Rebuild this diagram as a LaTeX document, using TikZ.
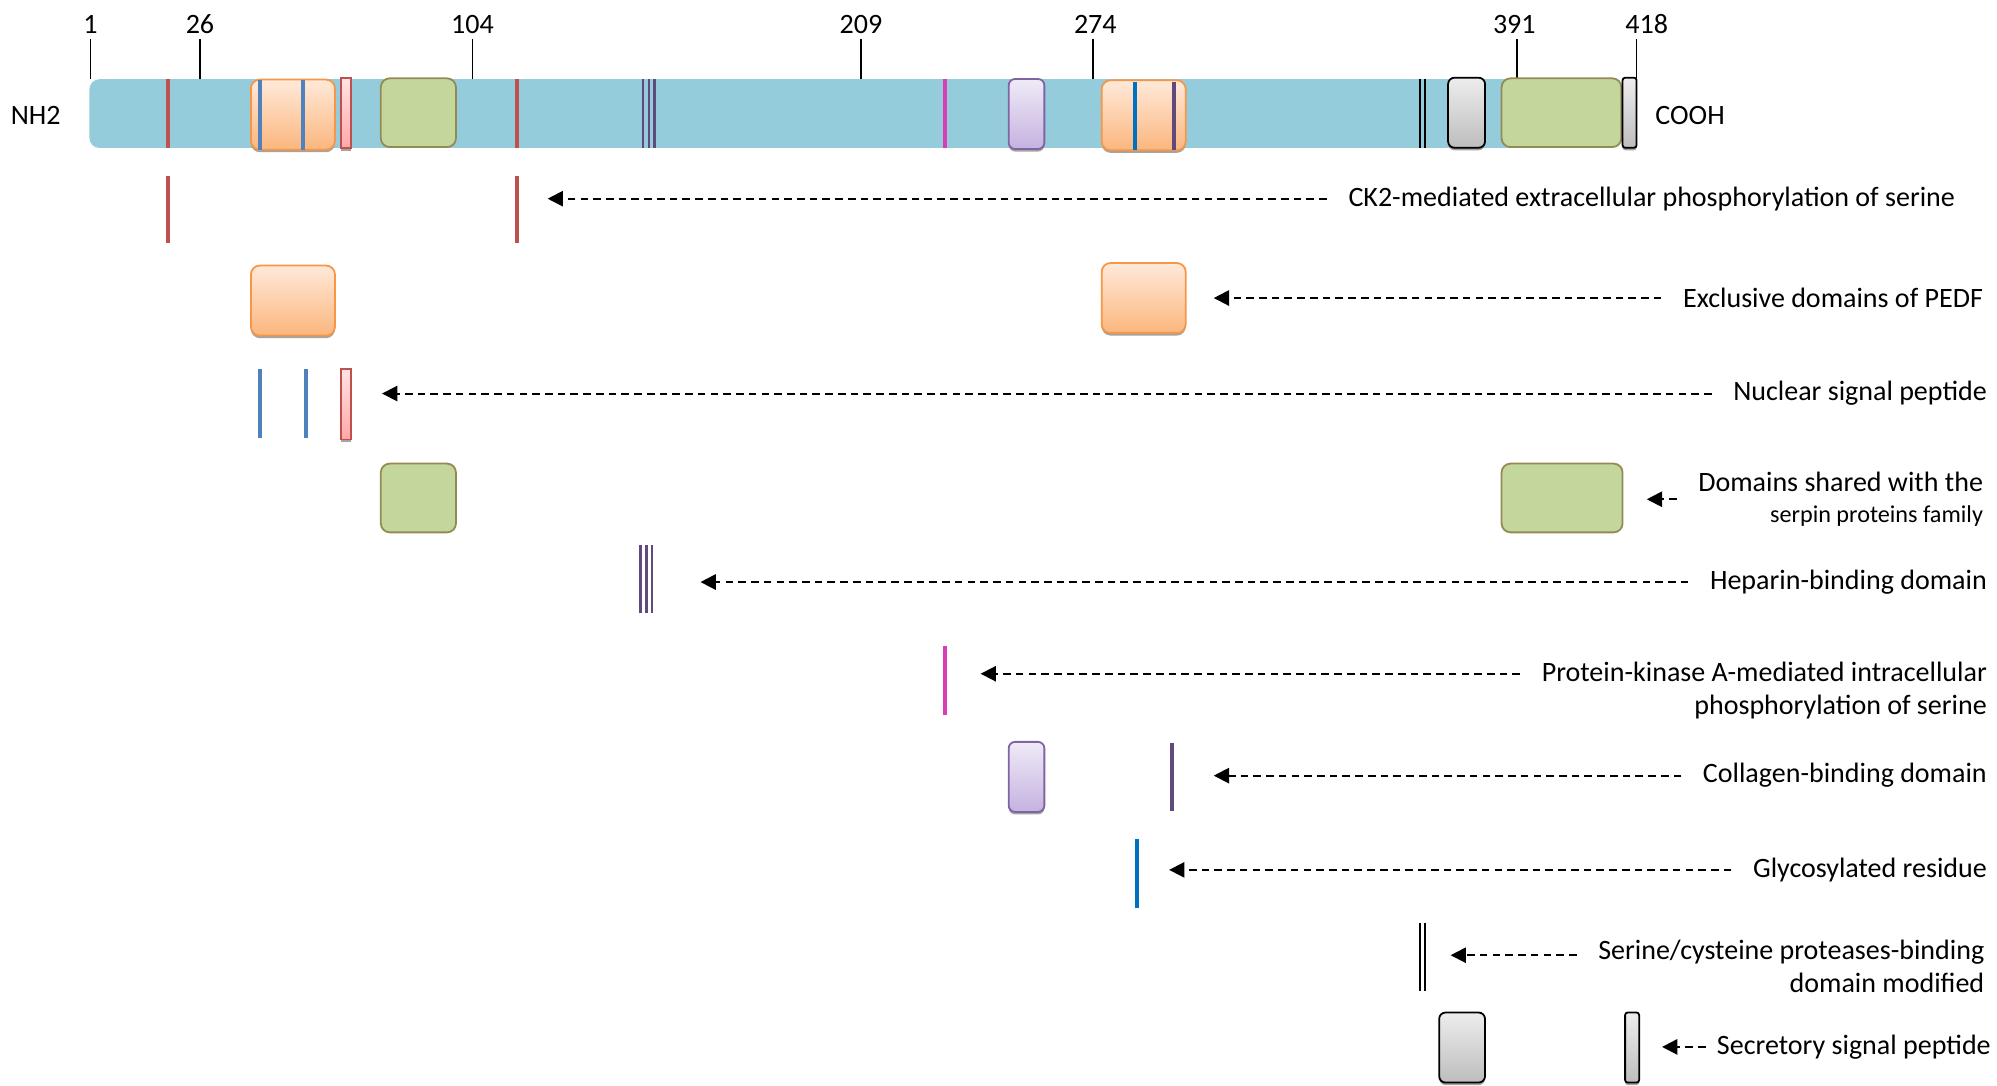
\documentclass[tikz,border=0pt]{standalone}
\usepackage{fontspec}
\setmainfont{Carlito}
\usetikzlibrary{arrows.meta,shadows}

\definecolor{barblue}{HTML}{94CCDC}
\definecolor{ckred}{HTML}{C0504D}
\definecolor{nucblue}{HTML}{4F81BD}
\definecolor{glyblue}{HTML}{0070C0}
\definecolor{hepviolet}{HTML}{604A7B}
\definecolor{pkamagenta}{HTML}{D93EB5}
\definecolor{pedfedge}{HTML}{F79646}
\definecolor{pedftop}{HTML}{FFE9D9}
\definecolor{pedfbot}{HTML}{FBB67E}
\definecolor{nsptop}{HTML}{FFE3E3}
\definecolor{nspbot}{HTML}{FFA8A8}
\definecolor{serpinfill}{HTML}{C3D69B}
\definecolor{serpinedge}{HTML}{948A54}
\definecolor{colledge}{HTML}{8064A2}
\definecolor{colltop}{HTML}{EFEAF7}
\definecolor{collbot}{HTML}{C5B2E0}
\definecolor{sectop}{HTML}{EDEDED}
\definecolor{secbot}{HTML}{BDBDBD}

\begin{document}
\begin{tikzpicture}[x=1pt,y=-1pt]
\tikzset{
  boxshadow/.style={drop shadow={shadow xshift=0pt,shadow yshift=-2pt,fill=black!45,opacity=0.8}},
  protbar/.style={fill=barblue,draw=none,rounded corners=8pt,inner sep=0pt},
  domainbox/.style={line width=1.4pt,inner sep=0pt,rounded corners=7pt},
  pedfbox/.style={domainbox,boxshadow,draw=pedfedge,top color=pedftop,bottom color=pedfbot,minimum width=66pt,minimum height=55pt},
  nspbox/.style={domainbox,boxshadow,rounded corners=0pt,draw=ckred,top color=nsptop,bottom color=nspbot,minimum width=8pt,minimum height=55pt},
  serpinbox/.style={domainbox,draw=serpinedge,fill=serpinfill,minimum height=54pt},
  collbox/.style={domainbox,boxshadow,rounded corners=5pt,draw=colledge,top color=colltop,bottom color=collbot,minimum width=28pt,minimum height=55pt},
  secbox/.style={domainbox,boxshadow,rounded corners=5pt,draw=black,top color=sectop,bottom color=secbot,minimum height=55pt},
  marker/.style={line width=3pt},
  thinmarker/.style={line width=1.8pt},
  tickline/.style={draw=black,line width=1.3pt},
  numlabel/.style={font=\fontsize{22}{26}\selectfont,inner sep=4pt},
  keylabel/.style={font=\fontsize{22}{26}\selectfont,anchor=east,align=right,inner sep=0pt,outer xsep=17pt},
  pointer/.style={draw=black,line width=1.5pt,dash pattern=on 6pt off 4pt,-{Triangle[length=12pt,width=12pt]}}
}
\useasboundingbox (0,0) rectangle (1568,852);

% protein chain
\node[protbar,minimum width=1160pt,minimum height=54pt,anchor=north west] (n_bar) at (70,62) {};
\node[numlabel] (n_nh2) at (28,91) {NH2};
\node[numlabel] (n_cooh) at (1327,91) {COOH};

% residue positions
\draw[tickline] (71,62) -- (71,31) node[numlabel,above] (p_1) {1};
\draw[tickline] (157,62) -- (157,31) node[numlabel,above] (p_26) {26};
\draw[tickline] (371,62) -- (371,31) node[numlabel,above] (p_104) {104};
\draw[tickline] (676,62) -- (676,31) node[numlabel,above] (p_209) {209};
\draw[tickline] (858,62) -- (858,31) node[numlabel,above,xshift=2pt] (p_274) {274};
\draw[tickline] (1191,61) -- (1191,31) node[numlabel,above,xshift=-2pt] (p_391) {391};
\draw[tickline] (1285,61) -- (1285,31) node[numlabel,above,xshift=8pt] (p_418) {418};

% features on the chain
\draw[marker,ckred] (132,62) -- (132,116);
\node[pedfbox] (n_pedfA) at (230,90) {};
\draw[marker,nucblue] (204,63) -- (204,118);
\draw[marker,nucblue] (238,63) -- (238,118);
\node[nspbox] (n_nsp) at (271.5,89) {};
\node[serpinbox,minimum width=59pt] (n_serpinA) at (328.5,88.5) {};
\draw[marker,ckred] (406,62) -- (406,116);
\draw[thinmarker,hepviolet] (505,62) -- (505,116);
\draw[thinmarker,hepviolet] (509.5,62) -- (509.5,116);
\draw[thinmarker,hepviolet] (514,62) -- (514,116);
\draw[marker,pkamagenta] (742,62) -- (742,116);
\node[collbox] (n_coll) at (806,89.5) {};
\node[pedfbox] (n_pedfB) at (898,90.5) {};
\draw[marker,glyblue] (891,64) -- (891,118);
\draw[marker,hepviolet] (922,64) -- (922,118);
\draw[thinmarker,black] (1115,62) -- (1115,116);
\draw[thinmarker,black] (1119,62) -- (1119,116);
\node[secbox,minimum width=29pt] (n_secA) at (1151.5,88.5) {};
\node[serpinbox,minimum width=94pt] (n_serpinB) at (1226,88.5) {};
\node[secbox,rounded corners=2pt,minimum width=11pt] (n_secB) at (1279.5,88.5) {};

% CK2 sites
\draw[marker,ckred] (132,138) -- (132,191);
\draw[marker,ckred] (406,138) -- (406,191);
\coordinate (t_ck2) at (430,156);
\node[keylabel] (l_ck2) at (1552,156) {CK2-mediated extracellular phosphorylation of serine};
\draw[pointer] (l_ck2) -- (t_ck2);

% PEDF domains
\node[pedfbox] (n_pedf1) at (230,236) {};
\node[pedfbox] (n_pedf2) at (898,234) {};
\coordinate (t_pedf) at (953,234);
\node[keylabel] (l_pedf) at (1574,234) {Exclusive domains of PEDF};
\draw[pointer] (l_pedf) -- (t_pedf);

% nuclear signal
\draw[marker,nucblue] (204,290) -- (204,344);
\draw[marker,nucblue] (240,290) -- (240,344);
\node[nspbox] (n_nsp1) at (271.5,317.5) {};
\coordinate (t_nsp) at (300,309);
\node[keylabel] (l_nsp) at (1577,309) {Nuclear signal peptide};
\draw[pointer] (l_nsp) -- (t_nsp);

% serpin domains
\node[serpinbox,minimum width=59pt] (n_serpin1) at (328.5,391) {};
\node[serpinbox,minimum width=95pt] (n_serpin2) at (1226.5,391) {};
\coordinate (t_serpin) at (1293,392);
\node[keylabel] (l_serpin) at (1574,392) {Domains shared with the\\[-2pt]{\fontsize{19}{22}\selectfont serpin proteins family}};
\draw[pointer] (l_serpin) -- (t_serpin);

% heparin
\draw[thinmarker,hepviolet] (503,428) -- (503,481);
\draw[thinmarker,hepviolet] (507.5,428) -- (507.5,481);
\draw[thinmarker,hepviolet] (512,428) -- (512,481);
\coordinate (t_hep) at (550,457);
\node[keylabel] (l_hep) at (1577,457) {Heparin-binding domain};
\draw[pointer] (l_hep) -- (t_hep);

% PKA site
\draw[marker,pkamagenta] (742,507) -- (742,561);
\coordinate (t_pka) at (770,529);
\node[keylabel] (l_pka) at (1577,542) {Protein-kinase A-mediated intracellular\\phosphorylation of serine};
\draw[pointer] (l_pka.west |- t_pka) -- (t_pka);

% collagen
\node[collbox] (n_coll1) at (806,610) {};
\draw[marker,hepviolet] (920,583) -- (920,637);
\coordinate (t_coll) at (953,609);
\node[keylabel] (l_coll) at (1577,609) {Collagen-binding domain};
\draw[pointer] (l_coll) -- (t_coll);

% glycosylation
\draw[marker,glyblue] (893,659) -- (893,713);
\coordinate (t_glyc) at (918,683);
\node[keylabel] (l_glyc) at (1577,683) {Glycosylated residue};
\draw[pointer] (l_glyc) -- (t_glyc);

% protease binding
\draw[thinmarker,black] (1115,725) -- (1115,778);
\draw[thinmarker,black] (1119,725) -- (1119,778);
\coordinate (t_prot) at (1139,750);
\node[keylabel] (l_prot) at (1575,759) {Serine/cysteine proteases-binding\\domain modified};
\draw[pointer] (l_prot.west |- t_prot) -- (t_prot);

% secretory signal
\node[secbox,minimum width=36pt] (n_sec1) at (1148,822.5) {};
\node[secbox,rounded corners=2pt,minimum width=11pt] (n_sec2) at (1281.5,822.5) {};
\coordinate (t_sec) at (1305,822);
\node[keylabel,outer xsep=9pt] (l_sec) at (1572,822) {Secretory signal peptide};
\draw[pointer] (l_sec) -- (t_sec);
\end{tikzpicture}
\end{document}
